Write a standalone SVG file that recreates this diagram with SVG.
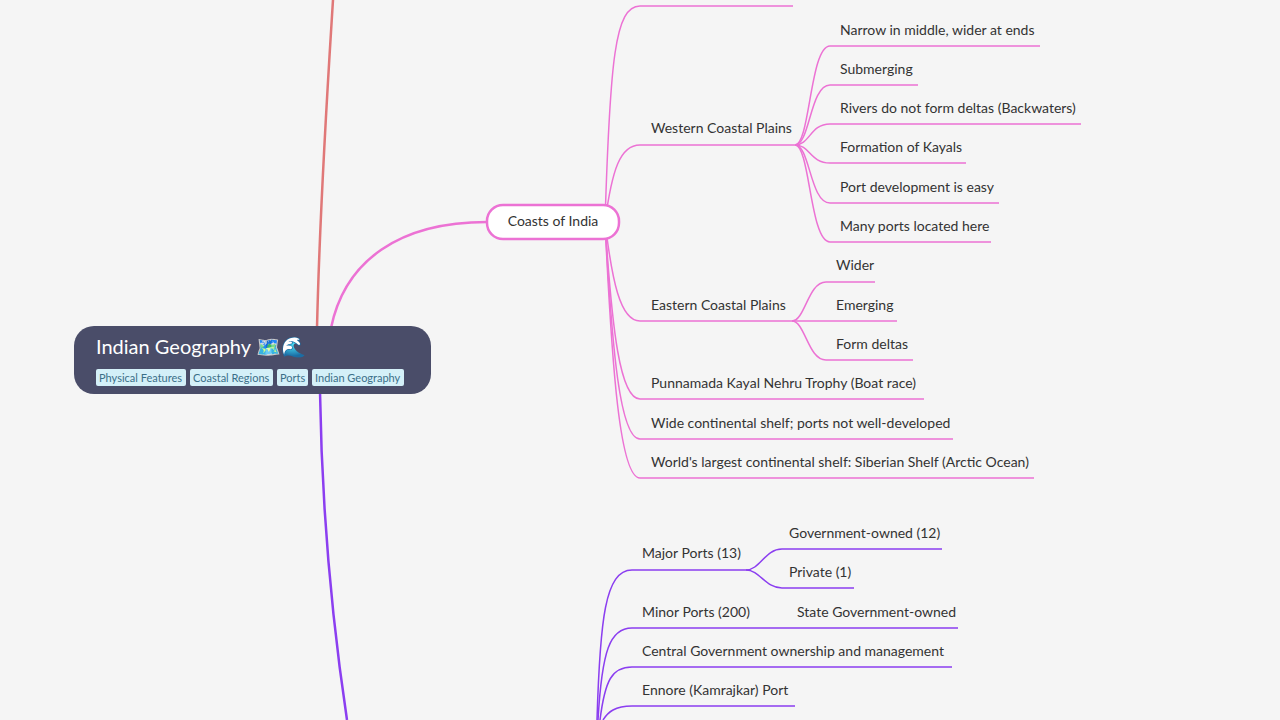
<svg xmlns="http://www.w3.org/2000/svg" width="1280" height="720" viewBox="0 0 1280 720">
<style>
text{font-family:Lato,"Noto Sans",sans-serif;font-size:14px;fill:#333}
.p{fill:none;stroke:#ec72d4;stroke-width:1.5}
.v{fill:none;stroke:#8b3ef0;stroke-width:1.5}
.tag{fill:#d4f0f8;}
.tt{font-size:11px;fill:#3b6f88}
</style>
<rect width="1280" height="720" fill="#f5f5f5"/>
<g id="connectors">
<path d="M317,328 C320,200 328,80 333,0" fill="none" stroke="#e07878" stroke-width="2.5"/>
<path d="M331,328 C345,260 400,222 487,222" fill="none" stroke="#ec72d4" stroke-width="2.5"/>
<path d="M320,392 C322,520 335,640 347,720" fill="none" stroke="#8b3ef0" stroke-width="2.5"/>
<path class="p" d="M605,222 C610,60 615,6 640,6 H793"/>
<path class="p" d="M605,222 C612,170 620,145 640,145 H795"/>
<path class="p" d="M605,222 C612,280 620,321 640,321 H792"/>
<path class="p" d="M605,222 C612,330 620,399 640,399 H924"/>
<path class="p" d="M605,222 C612,350 620,439 640,439 H953"/>
<path class="p" d="M605,222 C612,370 620,478 640,478 H1034"/>
<path class="p" d="M795,145 C810,145 810,46 830,46 H1040"/>
<path class="p" d="M795,145 C810,145 810,85 830,85 H918"/>
<path class="p" d="M795,145 C810,145 810,124 830,124 H1081"/>
<path class="p" d="M795,145 C810,145 810,163 830,163 H966"/>
<path class="p" d="M795,145 C810,145 810,203 830,203 H999"/>
<path class="p" d="M795,145 C810,145 810,242 830,242 H991"/>
<path class="p" d="M792,321 C805,321 808,282 826,282 H875"/>
<path class="p" d="M792,321 H897"/>
<path class="p" d="M792,321 C805,321 808,360 826,360 H913"/>
<path class="v" d="M597,720 C600,620 605,570 632,570 H746"/>
<path class="v" d="M598,720 C602,650 610,628 632,628 H958"/>
<path class="v" d="M600,720 C605,680 612,667 632,667 H952"/>
<path class="v" d="M603,720 C608,712 615,706 632,706 H795"/>
<path class="v" d="M746,570 C760,570 765,549 782,549 H942"/>
<path class="v" d="M746,570 C760,570 765,588 782,588 H854"/>
</g>
<g id="root">
<rect x="74" y="326" width="357" height="68" rx="20" fill="#4a4d69"/>
<text x="96" y="354" style="font-size:20px;fill:#fff">Indian Geography 🗺️🌊</text>
<rect class="tag" x="96" y="369" width="90" height="17" rx="2"/><text class="tt" x="99" y="382">Physical Features</text>
<rect class="tag" x="190" y="369" width="83" height="17" rx="2"/><text class="tt" x="193" y="382">Coastal Regions</text>
<rect class="tag" x="277" y="369" width="31" height="17" rx="2"/><text class="tt" x="280" y="382">Ports</text>
<rect class="tag" x="312" y="369" width="92" height="17" rx="2"/><text class="tt" x="315" y="382">Indian Geography</text>
</g>
<g id="coasts">
<rect x="487" y="205" width="132" height="34" rx="16" fill="#fff" stroke="#ec72d4" stroke-width="2.5"/>
<text x="553" y="226" text-anchor="middle">Coasts of India</text>
</g>
<g id="western"><text x="651" y="133">Western Coastal Plains</text></g>
<g id="w1"><text x="840" y="35">Narrow in middle, wider at ends</text></g>
<g id="w2"><text x="840" y="74">Submerging</text></g>
<g id="w3"><text x="840" y="113">Rivers do not form deltas (Backwaters)</text></g>
<g id="w4"><text x="840" y="152">Formation of Kayals</text></g>
<g id="w5"><text x="840" y="192">Port development is easy</text></g>
<g id="w6"><text x="840" y="231">Many ports located here</text></g>
<g id="eastern"><text x="651" y="310">Eastern Coastal Plains</text></g>
<g id="e1"><text x="836" y="270">Wider</text></g>
<g id="e2"><text x="836" y="310">Emerging</text></g>
<g id="e3"><text x="836" y="349">Form deltas</text></g>
<g id="c1"><text x="651" y="388">Punnamada Kayal Nehru Trophy (Boat race)</text></g>
<g id="c2"><text x="651" y="428">Wide continental shelf; ports not well-developed</text></g>
<g id="c3"><text x="651" y="467">World's largest continental shelf: Siberian Shelf (Arctic Ocean)</text></g>
<g id="major"><text x="642" y="558">Major Ports (13)</text></g>
<g id="m1"><text x="789" y="538">Government-owned (12)</text></g>
<g id="m2"><text x="789" y="577">Private (1)</text></g>
<g id="minor"><text x="642" y="617">Minor Ports (200)</text><text x="797" y="617">State Government-owned</text></g>
<g id="central"><text x="642" y="656">Central Government ownership and management</text></g>
<g id="ennore"><text x="642" y="695">Ennore (Kamrajkar) Port</text></g>
</svg>
